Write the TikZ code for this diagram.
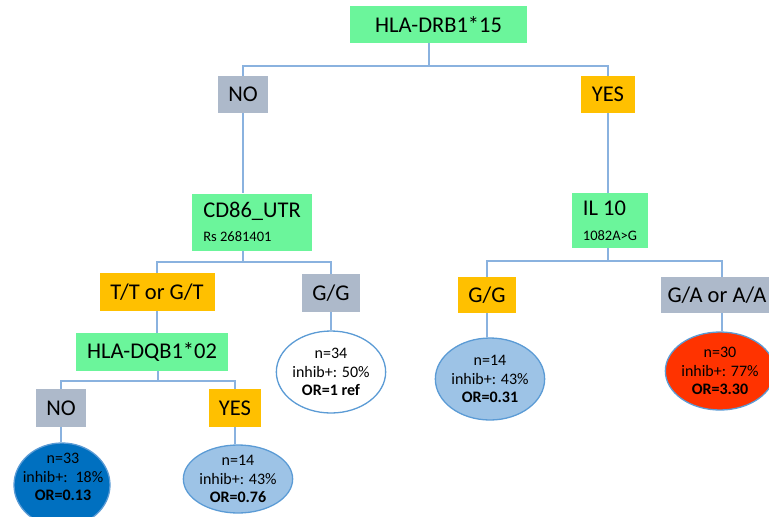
\documentclass[tikz,border=0pt]{standalone}
\usepackage{fontspec}
\setmainfont{Carlito}
\usetikzlibrary{shapes.geometric}
\definecolor{boxgreen}{HTML}{6BF59B}
\definecolor{boxgrey}{HTML}{ADB9CA}
\definecolor{boxorange}{HTML}{FFC000}
\definecolor{linkblue}{HTML}{8AB2DF}
\definecolor{rimblue}{HTML}{5B9BD5}
\definecolor{lightblue}{HTML}{9DC3E6}
\definecolor{darkblue}{HTML}{0070C0}
\definecolor{hotred}{HTML}{FF3300}
\tikzset{
  x=1pt, y=-1pt,
  bigtxt/.style={font=\fontsize{22.5}{26}\selectfont},
  labelbox/.style={rectangle, inner sep=0pt, bigtxt, text=black},
  greenbox/.style={labelbox, fill=boxgreen},
  greybox/.style={labelbox, fill=boxgrey},
  orangebox/.style={labelbox, fill=boxorange},
  leaftxt/.style={inner sep=0pt, align=center, font=\fontsize{16}{18.5}\selectfont},
  leaf/.style={ellipse, draw=rimblue, line width=1.3pt, leaftxt},
  link/.style={draw=linkblue, line width=1.4pt}
}
\newcommand{\smalltxt}{\fontsize{14.5}{16}\selectfont}
\begin{document}
\begin{tikzpicture}
\useasboundingbox (0,0) rectangle (769,517);
\clip (0,0) rectangle (769,517);
% boxes
\node[greenbox, minimum width=177pt, minimum height=37pt] (top) at (438.5,24.5) {HLA-DRB1*15};
\node[greybox, minimum width=50pt, minimum height=37pt] (noA) at (243,94.5) {NO};
\node[orangebox, minimum width=54pt, minimum height=37pt] (yesA) at (608,94.5) {YES};
\node[greenbox, minimum width=120pt, minimum height=57pt, align=left] (cd86) at (252,222)
  {CD86\_UTR\\[-2pt]{\smalltxt Rs 2681401}};
\node[greenbox, minimum width=76pt, minimum height=55pt, align=left] (il10) at (610,220.5)
  {IL 10\\[-1pt]{\smalltxt 1082A>G}};
\node[orangebox, minimum width=115pt, minimum height=38pt] (tt) at (157,292) {T/T or G/T};
\node[greybox, minimum width=58pt, minimum height=38pt] (gg1) at (331,293) {G/G};
\node[orangebox, minimum width=58pt, minimum height=36pt] (gg2) at (487,295) {G/G};
\node[greybox, minimum width=112pt, minimum height=36pt] (ga) at (717,295) {G/A or A/A};
\node[greenbox, minimum width=152pt, minimum height=38pt] (dqb) at (152,352) {HLA-DQB1*02};
\node[greybox, minimum width=50pt, minimum height=38pt] (noB) at (61,408) {NO};
\node[orangebox, minimum width=52pt, minimum height=38pt] (yesB) at (235,408) {YES};
% leaves
\node[leaf, fill=darkblue, minimum width=96pt, minimum height=84pt] (e1) at (62,485) {};
\node[leaftxt] (e1t) at (63,477)
  {n=33\\inhib+:\hspace{8pt}18\%\\\textbf{OR=0.13}};
\node[leaf, fill=lightblue, minimum width=96pt, minimum height=68pt] (e2) at (238,479)
  {n=14\\inhib+: 43\%\\\textbf{OR=0.76}};
\node[leaf, fill=white, minimum width=96pt, minimum height=82pt] (e3) at (331,372)
  {n=34\\inhib+: 50\%\\\textbf{OR=1 ref}};
\node[leaf, fill=lightblue, minimum width=94pt, minimum height=82pt] (e4) at (490,379)
  {n=14\\inhib+: 43\%\\\textbf{OR=0.31}};
\node[leaf, fill=hotred, minimum width=94pt, minimum height=78pt] (e5) at (720,371)
  {n=30\\inhib+: 77\%\\\textbf{OR=3.30}};
% junctions
\coordinate (j1) at (429,66);
\coordinate (j2) at (243,262);
\coordinate (j3) at (608,261);
\coordinate (j4) at (158,381);
\coordinate (j5) at (722,295);
% connectors
\begin{scope}[on background layer/.try]
\draw[link] (top.south -| j1) -- (j1);
\draw[link] (noA.north) |- (j1) -| (yesA.north);
\draw[link] (noA.south) -- (noA.south |- cd86.north);
\draw[link] (yesA.south) -- (yesA.south |- il10.north);
\draw[link] (cd86.south -| j2) -- (j2);
\draw[link] (tt.north) |- (j2) -| (gg1.north);
\draw[link] (il10.south -| j3) -- (j3);
\draw[link] (gg2.north) |- (j3) -| (ga.north -| j5);
\draw[link] (tt.south) -- (tt.south |- dqb.north);
\draw[link] (dqb.south -| j4) -- (j4);
\draw[link] (noB.north) |- (j4) -| (yesB.north);
\draw[link] (noB.south) -- (noB.south |- e1.north);
\draw[link] (yesB.south) -- (yesB.south |- e2.north);
\draw[link] (gg1.south) -- (gg1.south |- e3.north);
\draw[link] (gg2.south) -- (gg2.south |- e4.north);
\draw[link] (ga.south -| j5) -- (j5 |- e5.north);
\end{scope}
\end{tikzpicture}
\end{document}
